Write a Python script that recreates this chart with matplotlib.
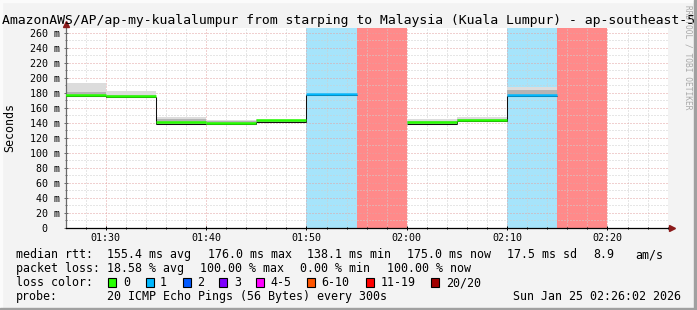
import matplotlib
matplotlib.use("Agg")
import matplotlib.pyplot as plt
import numpy as np
from matplotlib.patches import Rectangle
from matplotlib.ticker import MultipleLocator, FixedLocator, FuncFormatter

plt.rcParams['font.family'] = ['DejaVu Sans Mono']

W, H, DPI = 697, 310, 100

# ---------------- data ----------------
title = "AmazonAWS/AP/ap-my-kualalumpur from starping to Malaysia (Kuala Lumpur) - ap-southeast-5"

seg_start = ["01:25", "01:30", "01:35", "01:40", "01:45", "01:50",
             "01:55", "02:00", "02:05", "02:10", "02:15"]
seg_minutes = 5
median_ms = [176.0, 173.7, 138.8, 138.6, 141.5, 176.5, np.nan, 139.0, 142.0, 175.5, np.nan]
smoke_inner_ms = [181.0, 176.5, 145.4, 141.8, 143.3, 178.5, np.nan, 142.3, 144.8, 183.5, np.nan]
smoke_max_ms = [192.6, 181.9, 148.1, 143.2, 144.8, 180.0, np.nan, 145.0, 147.3, 188.0, np.nan]
lost_pings = [0, 0, 0, 0, 0, 1, 20, 0, 0, 1, 20]

x_tick_labels = ["01:30", "01:40", "01:50", "02:00", "02:10", "02:20"]
y_tick_values = [0, 20, 40, 60, 80, 100, 120, 140, 160, 180, 200, 220, 240, 260]

loss_labels = ["0", "1", "2", "3", "4-5", "6-10", "11-19", "20/20"]
loss_upper = [0, 1, 2, 3, 5, 10, 19, 20]
loss_colors = ['#26ff00', '#00b8ff', '#0059ff', '#7e00ff', '#ff00ff', '#ff5500', '#ff0000', '#a10000']
loss_bg = ['#ffffff', '#a6e4fb', '#a6c4ff', '#d2a6ff', '#ffa6ff', '#ffc0a6', '#ff9a9a', '#ff8a8a']

stats_rtt = [("median rtt:", 16), ("155.4 ms avg", 107), ("176.0 ms max", 207.7),
             ("138.1 ms min", 307), ("175.0 ms now", 407.3), ("17.5 ms sd", 507.3),
             ("8.9", 593), ("am/s", 635.7)]
stats_loss = [("packet loss:", 16), ("18.58 % avg", 107), ("100.00 % max", 200),
              ("0.00 % min", 300), ("100.00 % now", 386.7)]
box_x = [108.3, 145.7, 182.7, 219.3, 256, 307.3, 365.7, 430.7]
label_x = [123.3, 160, 196.7, 234.3, 270.7, 321.7, 380.7, 445.7]
probe_row = [("probe:", 16), ("20 ICMP Echo Pings (56 Bytes) every 300s", 107),
             ("Sun Jan 25 02:26:02 2026", 513.3)]


def to_min(s):
    h, m = s.split(":")
    return int(h) * 60 + int(m)


def loss_class(n):
    for i, u in enumerate(loss_upper):
        if n <= u:
            return i
    return len(loss_upper) - 1


starts = np.array([to_min(s) for s in seg_start], dtype=float)
med = np.array(median_ms)
inner = np.array(smoke_inner_ms)
smax = np.array(smoke_max_ms)

# ---------------- figure ----------------
fig = plt.figure(figsize=(W / DPI, H / DPI), dpi=DPI)
fig.patch.set_facecolor('#f3f3f3')

# frame shading
fig.patches.append(Rectangle((0, 1 - 2 / H), 1, 2 / H, transform=fig.transFigure, color='#fbfbfb', zorder=0))
fig.patches.append(Rectangle((0, 0), 2 / W, 1, transform=fig.transFigure, color='#fbfbfb', zorder=0))
fig.patches.append(Rectangle((0, 0), 1, 2 / H, transform=fig.transFigure, color='#a0a0a0', zorder=0))
fig.patches.append(Rectangle((1 - 3 / W, 0), 3 / W, 1, transform=fig.transFigure, color='#a0a0a0', zorder=0))

L, R, T, B = 66, 668, 28, 228
ax = fig.add_axes([L / W, 1 - B / H, (R - L) / W, (B - T) / H])
ax.set_facecolor('white')
t0 = 86 + 2 / 60
ax.set_xlim(t0, t0 + 60)
ax.set_ylim(0, 266.1)

# loss backgrounds
for s, n in zip(starts, lost_pings):
    if n > 0:
        ax.axvspan(s, s + seg_minutes, color=loss_bg[loss_class(n)], lw=0, zorder=0.3)

# grid
ax.set_axisbelow(True)
ax.xaxis.set_major_locator(FixedLocator([to_min(s) for s in x_tick_labels]))
ax.xaxis.set_major_formatter(FuncFormatter(lambda v, p: "%02d:%02d" % (int(round(v)) // 60, int(round(v)) % 60)))
ax.xaxis.set_minor_locator(MultipleLocator(2))
ax.yaxis.set_major_locator(FixedLocator(y_tick_values))
ax.yaxis.set_minor_locator(MultipleLocator(10))
ax.yaxis.set_major_formatter(FuncFormatter(lambda v, p: "0  " if v == 0 else "%d m" % v))
ax.grid(which='minor', color='#cfcfcf', linestyle=(0, (1, 2)), lw=0.72)
ax.grid(which='major', color='#e3a3a3', linestyle=(0, (1, 2)), lw=0.72)

# smoke
valid = ~np.isnan(med)
ax.bar(starts[valid], smax[valid] - med[valid], width=seg_minutes, bottom=med[valid],
       align='edge', color='#dcdcdc', lw=0, zorder=2)
ax.bar(starts[valid], inner[valid] - med[valid], width=seg_minutes, bottom=med[valid],
       align='edge', color='#b4b4b4', lw=0, zorder=2.1)

# median: black step line
for i in range(len(starts)):
    if valid[i]:
        ax.hlines(med[i], starts[i], starts[i] + seg_minutes, color='#111111', lw=0.75, zorder=3)
        if i + 1 < len(starts) and valid[i + 1]:
            ax.vlines(starts[i + 1], min(med[i], med[i + 1]), max(med[i], med[i + 1]),
                      color='#111111', lw=0.75, zorder=3)
# colored median line
for i in range(len(starts)):
    if valid[i]:
        ax.hlines(med[i] + 1.6, starts[i], starts[i] + seg_minutes,
                  color=loss_colors[loss_class(lost_pings[i])], lw=1.8, zorder=3.5)

# axes styling
for sp in ['top', 'right']:
    ax.spines[sp].set_visible(False)
ax.spines['left'].set_color('#6a6a6a')
ax.spines['left'].set_linewidth(0.9)
ax.spines['bottom'].set_color('black')
ax.spines['bottom'].set_linewidth(0.9)
ax.tick_params(which='major', direction='inout', length=2.6, width=0.7, labelsize=7.2)
ax.tick_params(which='minor', direction='inout', length=1.6, width=0.7)
ax.tick_params(axis='x', which='major', pad=2.3)
ax.tick_params(axis='y', which='major', pad=3.2)
ax.tick_params(axis='y', which='both', color='#6a6a6a')

# axis arrows
ax.plot([0], [1.0 + 4 / 200], marker='^', ms=4.5, color='#8b1a1a', transform=ax.transAxes, clip_on=False, zorder=5)
ax.plot([1.0 + 4 / 602], [0], marker='>', ms=4.5, color='#8b1a1a', transform=ax.transAxes, clip_on=False, zorder=5)

# title & labels
fig.text(348 / W, 1 - 24 / H, title, ha='center', va='baseline', fontsize=9.45, color='black')
fig.text(10 / W, 1 - 128 / H, "Seconds", rotation=90, ha='center', va='center', fontsize=8.4)
fig.text(688 / W, 1 - 5 / H, "RRDTOOL / TOBI OETIKER", rotation=270, ha='center', va='top',
         fontsize=5.7, color='#a8a8a8')

FS = 8.37
for txt, x in stats_rtt:
    fig.text(x / W, 1 - 258 / H, txt, ha='left', va='baseline', fontsize=FS)
for txt, x in stats_loss:
    fig.text(x / W, 1 - 272 / H, txt, ha='left', va='baseline', fontsize=FS)
fig.text(16 / W, 1 - 286 / H, "loss color:", ha='left', va='baseline', fontsize=FS)
for bx, lx, lab, col in zip(box_x, label_x, loss_labels, loss_colors):
    fig.patches.append(Rectangle((bx / W, 1 - 287 / H), 8 / W, 9.5 / H, transform=fig.transFigure,
                                 facecolor=col, edgecolor='black', lw=0.8, zorder=3))
    fig.text(lx / W, 1 - 286 / H, lab, ha='left', va='baseline', fontsize=FS)
for txt, x in probe_row:
    fig.text(x / W, 1 - 300 / H, txt, ha='left', va='baseline', fontsize=FS)

fig.savefig("out.png", dpi=DPI, facecolor=fig.get_facecolor())
